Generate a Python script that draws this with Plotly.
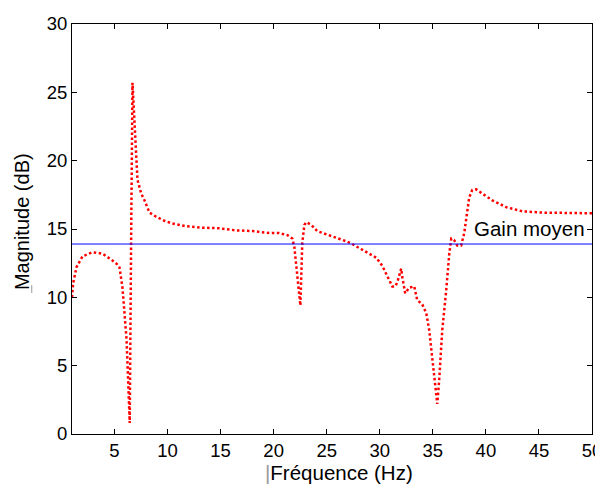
import plotly.graph_objects as go

freq = [1.0, 1.1, 1.42, 1.99, 2.93, 3.87, 4.81, 5.28, 5.47, 5.62, 5.75, 5.85, 5.98, 6.14, 6.24, 6.35, 6.44,
        6.57, 6.70, 7.17, 7.52, 7.83, 8.30, 8.93, 9.71, 10.46, 11.75, 13.29, 14.89, 16.46, 18.0, 19.6,
        20.5, 21.3, 21.76, 21.95, 22.23, 22.52, 22.7, 22.9, 23.08, 23.55, 24.1, 25.06, 25.9, 26.85,
        27.4, 28.07, 29.0, 29.67, 30.24, 30.7, 31.18, 31.46, 31.65, 32.02, 32.12, 32.4, 32.78, 33.25,
        33.53, 34.0, 34.38, 34.66, 34.95, 35.23, 35.42, 35.6, 35.89, 36.26, 36.55, 36.74, 37.0, 37.3,
        37.67, 37.96, 38.24, 38.43, 38.71, 39.09, 39.65, 40.6, 41.9, 43.42, 45.3, 47.56, 50.0]
magnitude = [10.0, 11.0, 12.2, 13.0, 13.3, 13.2, 12.7, 12.4, 12.2, 11.5, 10.75, 9.8, 8.6, 6.9, 4.9, 2.5, 0.8,
             14.0, 25.7, 18.6, 17.6, 17.1, 16.2, 15.9, 15.6, 15.4, 15.2, 15.1, 15.05, 14.9, 14.85, 14.7,
             14.7, 14.55, 14.3, 13.7, 11.3, 9.4, 14.0, 15.3, 15.5, 15.3, 14.85, 14.6, 14.4, 14.1,
             13.9, 13.6, 13.2, 12.9, 12.3, 11.6, 10.8, 10.8, 11.1, 12.1, 11.5, 10.3, 10.7, 10.8,
             9.8, 9.5, 8.85, 7.6, 5.6, 3.4, 2.2, 3.95, 7.6, 10.5, 13.2, 14.3, 14.2, 13.8,
             13.8, 14.7, 16.4, 17.3, 17.85, 17.9, 17.6, 17.1, 16.6, 16.3, 16.2, 16.15, 16.15]
gain_moyen = 13.9
x_ticks = [5, 10, 15, 20, 25, 30, 35, 40, 45, 50]
y_ticks = [0, 5, 10, 15, 20, 25, 30]

FONT = "Liberation Sans, Arial, sans-serif"

fig = go.Figure()
fig.add_trace(go.Scatter(x=freq, y=magnitude, mode="lines",
                         line=dict(color="#ff0000", width=2.5, dash="2.5px,2.5px"),
                         showlegend=False, hoverinfo="skip"))
fig.add_trace(go.Scatter(x=[1, 50], y=[gain_moyen, gain_moyen], mode="lines",
                         line=dict(color="#0000ff", width=1),
                         showlegend=False, hoverinfo="skip"))

fig.add_annotation(x=38.7, y=15.05, text="Gain moyen", showarrow=False,
                   xanchor="left", yanchor="middle",
                   font=dict(family=FONT, size=20.5, color="black"))
fig.add_annotation(x=0.514, y=-0.093, xref="paper", yref="paper",
                   text="<span style='color:#999999'>|</span>Fréquence (Hz)", showarrow=False,
                   xanchor="center", yanchor="middle",
                   font=dict(family=FONT, size=20.5, color="black"))
fig.add_annotation(x=-0.096, y=0.517, xref="paper", yref="paper",
                   text="Magnitude (dB)", showarrow=False,
                   textangle=-90, xanchor="center", yanchor="middle",
                   font=dict(family=FONT, size=20, color="black"))
fig.add_shape(type="line", xref="paper", yref="paper", x0=-0.0774, x1=-0.0774, y0=0.344, y1=0.363,
              line=dict(color="#999999", width=1))

axis_common = dict(showgrid=False, zeroline=False, showline=True, linecolor="black",
                   linewidth=1, mirror="ticks", ticks="inside", ticklen=5, tickcolor="black",
                   automargin=False, ticklabeloverflow="allow",
                   tickfont=dict(family=FONT, size=18.5, color="black"))
fig.update_xaxes(range=[1, 50], tickvals=x_ticks, **axis_common)
fig.update_yaxes(range=[0, 30], tickvals=y_ticks, **axis_common)

fig.update_layout(width=595, height=476,
                  margin=dict(l=64, r=11, t=16, b=50),
                  plot_bgcolor="white", paper_bgcolor="white")

fig.write_html("out.html")
